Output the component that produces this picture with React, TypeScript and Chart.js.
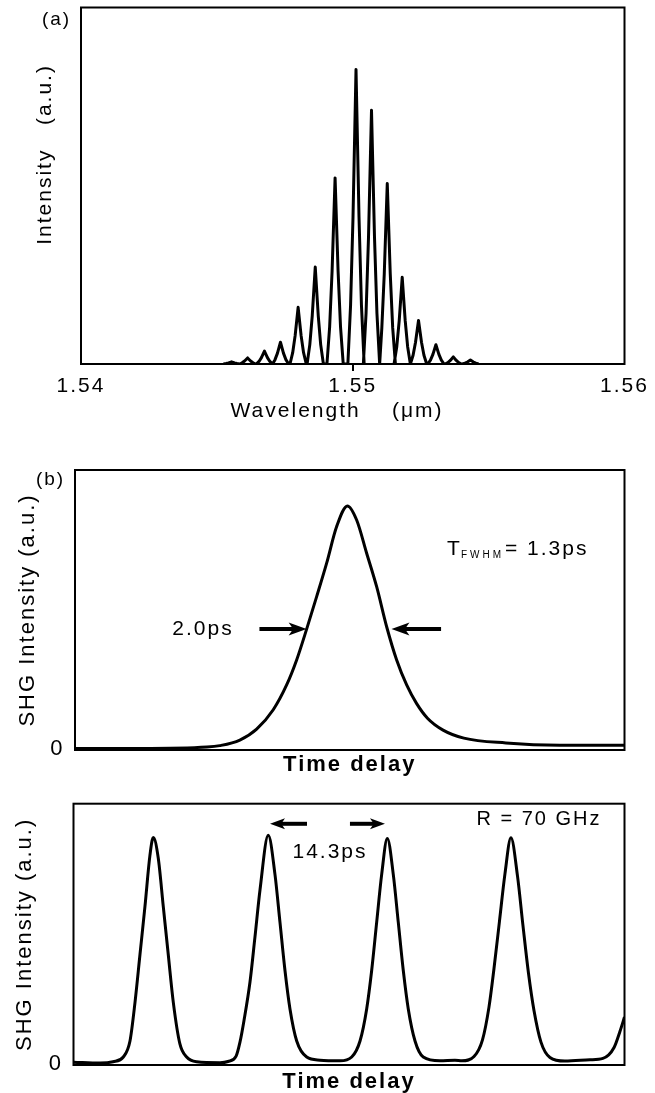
import React, { useEffect, useRef } from "react";
import { Chart, registerables } from "chart.js";

Chart.register(...registerables);

const FONT = "'Liberation Sans', Arial, Helvetica, sans-serif";
const LS = "2px";

// ---------- panel (a): optical spectrum ----------
const wavelengthTicks = [1.54, 1.55, 1.56];
const modeWavelengths = [
  1.54554, 1.54613, 1.54675, 1.54734, 1.54799, 1.54862, 1.54935, 1.55012,
  1.55069, 1.55127, 1.55182, 1.55242, 1.55306, 1.5537, 1.55433,
];
const modeIntensities = [
  0.006, 0.017, 0.036, 0.061, 0.159, 0.272, 0.522, 0.826, 0.712, 0.506, 0.243,
  0.122, 0.054, 0.02, 0.011,
];
// line shape of one longitudinal mode (offset in µm, fraction of mode height)
const modeProfileOffsets = [-0.0003, -0.0002, -0.00011, 0, 0.00011, 0.0002, 0.0003];
const modeProfileLevels = [0, 0.2, 0.5, 1, 0.5, 0.2, 0];

// ---------- panel (b): single autocorrelation trace ----------
const delayB = [
  -6.81, -5.19, -3.51, -3.19, -2.69, -2.27, -1.855, -1.52, -1.27, -1.02, -0.77,
  -0.52, -0.27, 0, 0.23, 0.48, 0.73, 0.98, 1.23, 1.48, 1.73, 2.0, 2.39, 2.91,
  3.96, 5.31, 6.925,
];
const shgB = [
  0.0, 0.0, 0.006, 0.012, 0.035, 0.08, 0.16, 0.262, 0.365, 0.492, 0.626, 0.764,
  0.915, 1.0, 0.942, 0.805, 0.667, 0.502, 0.365, 0.262, 0.185, 0.125, 0.076,
  0.043, 0.023, 0.014, 0.014,
];

// ---------- panel (c): pulse train ----------
const delayC = [
  0, 3.19, 4.75, 5.99, 6.79, 7.39, 7.99, 8.59, 9.19, 9.59, 10.19, 10.79, 11.39,
  12.0, 12.79, 13.6, 14.81, 17.61,
  18.57, 19.53, 20.01, 20.49, 21.21, 21.81, 22.42, 23.41, 24.22, 24.82, 25.42,
  26.02, 26.83, 28.03, 29.63,
  32.03, 33.44, 34.44, 35.24, 35.84, 36.44, 37.04, 37.72, 38.44, 39.04, 39.64,
  40.24, 41.05, 42.04, 44.05, 45.85,
  46.69, 48.14, 49.16, 49.94, 50.54, 51.2, 51.86, 52.58, 53.37, 54.03, 54.69,
  55.35, 56.19, 57.27, 59.07,
  62.08, 63.64, 64.96, 65.69, 66.23,
];
const shgC = [
  0.006, 0.002, 0.008, 0.029, 0.1, 0.27, 0.483, 0.696, 0.923, 1.001, 0.909,
  0.696, 0.483, 0.27, 0.087, 0.029, 0.008, 0.004,
  0.009, 0.032, 0.095, 0.19, 0.36, 0.56, 0.77, 1.011, 0.837, 0.625, 0.412,
  0.242, 0.1, 0.029, 0.015,
  0.012, 0.029, 0.1, 0.242, 0.412, 0.625, 0.837, 0.997, 0.837, 0.625, 0.412,
  0.242, 0.1, 0.029, 0.012, 0.015,
  0.012, 0.031, 0.105, 0.25, 0.42, 0.63, 0.84, 1.0, 0.83, 0.61, 0.4, 0.235,
  0.095, 0.027, 0.011,
  0.017, 0.023, 0.07, 0.143, 0.206,
];

// ---------- annotations (data coordinates) ----------
const fwhmText = "2.0ps";
const fwhmLabelPos = [-3.61, 0.493];
const fwhmArrowLevel = 0.493;
const fwhmArrowLeft = [-2.2, -1.02]; // tail, head
const fwhmArrowRight = [2.34, 1.1];
const tfwhmPos = [2.49, 0.823];
const tfwhmValue = "= 1.3ps";
const spacingText = "14.3ps";
const spacingLabelPos = [30.83, 0.934];
const spacingArrowLevel = 1.062;
const spacingArrowLeft = [28.07, 23.62];
const spacingArrowRight = [33.23, 37.44];
const rateText = "R = 70 GHz";
const rateLabelPos = [55.95, 1.079];

function drawText(
  ctx: any, s: string, x: number, y: number, size: number,
  align: string = "center", weight: string = "normal", ls: string = LS
) {
  ctx.save();
  ctx.font = `${weight} ${size}px ${FONT}`;
  ctx.letterSpacing = ls;
  ctx.fillStyle = "#000";
  ctx.textAlign = align;
  ctx.textBaseline = "middle";
  ctx.fillText(s, x, y);
  ctx.restore();
}

function drawArrow(ctx: any, xTail: number, xHead: number, y: number, headLen: number, headHalf: number, shaft: number) {
  const dir = Math.sign(xHead - xTail);
  ctx.save();
  ctx.fillStyle = "#000";
  ctx.strokeStyle = "#000";
  ctx.lineWidth = shaft;
  ctx.beginPath();
  ctx.moveTo(xTail, y);
  ctx.lineTo(xHead - dir * headLen * 0.7, y);
  ctx.stroke();
  ctx.beginPath();
  ctx.moveTo(xHead, y);
  ctx.lineTo(xHead - dir * headLen, y - headHalf);
  ctx.lineTo(xHead - dir * headLen * 0.75, y);
  ctx.lineTo(xHead - dir * headLen, y + headHalf);
  ctx.closePath();
  ctx.fill();
  ctx.restore();
}

const letterSpacingPlugin = {
  id: "letterSpacing",
  beforeUpdate(chart: any) { chart.ctx.letterSpacing = LS; },
  beforeLayout(chart: any) { chart.ctx.letterSpacing = LS; },
  beforeDraw(chart: any) { chart.ctx.letterSpacing = LS; },
};

const framePlugin = {
  id: "frame",
  afterDatasetsDraw(chart: any) {
    const { ctx, chartArea: a } = chart;
    ctx.save();
    ctx.strokeStyle = "#000";
    ctx.lineWidth = 2;
    ctx.strokeRect(a.left, a.top, a.right - a.left, a.bottom - a.top);
    ctx.restore();
  },
};

const noGrid = { display: false, drawTicks: false };
const noBorder = { display: false };

function zeroOnlyAxis(min: number, max: number, width: number, titlePad: number) {
  return {
    type: "linear",
    min,
    max,
    afterFit: (s: any) => { s.width = width; },
    afterBuildTicks: (s: any) => { s.ticks = [{ value: 0 }]; },
    grid: noGrid,
    border: noBorder,
    ticks: { padding: 10.5, color: "#000", font: { family: FONT, size: 22 }, callback: () => "0" },
    title: {
      display: true,
      text: "SHG Intensity (a.u.)",
      color: "#000",
      font: { family: FONT, size: 22 },
      padding: { top: titlePad, bottom: 0 },
    },
  };
}

function timeAxis(min: number, max: number, height: number, padBottom: number) {
  return {
    type: "linear",
    min,
    max,
    afterFit: (s: any) => { s.height = height; },
    grid: noGrid,
    border: noBorder,
    ticks: { display: false },
    title: {
      display: true,
      text: "Time delay",
      color: "#000",
      font: { family: FONT, size: 22, weight: "bold", lineHeight: 1 },
      padding: { top: 0, bottom: padBottom },
    },
  };
}

function lineDataset(points: any[], width: number, smooth: boolean) {
  return {
    data: points,
    borderColor: "#000",
    borderWidth: width,
    pointRadius: 0,
    fill: false,
    tension: 0,
    borderJoinStyle: "round",
    cubicInterpolationMode: smooth ? "monotone" : "default",
  };
}

const common = {
  animation: false,
  responsive: false,
  maintainAspectRatio: false,
  events: [],
};
const noPlugins = { legend: { display: false }, tooltip: { enabled: false } };

export default function App() {
  const refA = useRef<HTMLCanvasElement>(null);
  const refB = useRef<HTMLCanvasElement>(null);
  const refC = useRef<HTMLCanvasElement>(null);

  useEffect(() => {
    Chart.defaults.font.family = FONT;
    Chart.defaults.color = "#000";

    // ----- (a) -----
    const spectrum: any[] = [];
    modeWavelengths.forEach((w, i) => {
      modeProfileOffsets.forEach((o, j) => {
        spectrum.push({ x: w + o, y: modeIntensities[i] * modeProfileLevels[j] });
      });
    });

    const annotA = {
      id: "annotA",
      afterDraw(chart: any) {
        const a = chart.chartArea;
        drawText(chart.ctx, "(a)", a.left - 24.5, a.top + 12.5, 19);
      },
    };

    const chartA = new Chart(refA.current as any, {
      type: "line",
      data: { datasets: [lineDataset(spectrum, 3, false)] },
      options: {
        ...common,
        layout: { padding: { top: 7.5, right: 30.5, left: 0, bottom: 0 } },
        plugins: noPlugins,
        scales: {
          x: {
            type: "linear",
            min: 1.54,
            max: 1.56,
            afterBuildTicks: (s: any) => { s.ticks = wavelengthTicks.map((v) => ({ value: v })); },
            afterFit: (s: any) => { s.height = 76; },
            grid: {
              display: true,
              drawOnChartArea: false,
              drawTicks: true,
              tickLength: 7,
              lineWidth: 2,
              color: (c: any) =>
                c.tick && Math.abs(c.tick.value - wavelengthTicks[1]) < 1e-9 ? "#000" : "rgba(0,0,0,0)",
            },
            border: noBorder,
            ticks: {
              padding: 2.4,
              color: "#000",
              autoSkip: false,
              maxRotation: 0,
              font: { family: FONT, size: 21 },
              callback: (v: any) => Number(v).toFixed(2),
            },
            title: {
              display: true,
              text: "Wavelength    (μm)    ",
              color: "#000",
              font: { family: FONT, size: 21 },
              padding: { top: 0, bottom: 16.4 },
            },
          },
          y: {
            type: "linear",
            min: 0,
            max: 1,
            afterFit: (s: any) => { s.width = 81; },
            grid: noGrid,
            border: noBorder,
            ticks: { display: false },
            title: {
              display: true,
              text: "        Intensity   (a.u.)",
              color: "#000",
              font: { family: FONT, size: 21 },
              padding: { top: 32.4, bottom: 0 },
            },
          },
        },
      } as any,
      plugins: [letterSpacingPlugin, framePlugin, annotA] as any,
    });

    // ----- (b) -----
    const annotB = {
      id: "annotB",
      afterDraw(chart: any) {
        const { ctx, chartArea: a } = chart;
        const xs = chart.scales.x;
        const ys = chart.scales.y;
        drawText(ctx, "(b)", a.left - 24.5, a.top + 10, 19);
        drawText(ctx, fwhmText, xs.getPixelForValue(fwhmLabelPos[0]), ys.getPixelForValue(fwhmLabelPos[1]), 21);
        const ay = ys.getPixelForValue(fwhmArrowLevel);
        drawArrow(ctx, xs.getPixelForValue(fwhmArrowLeft[0]), xs.getPixelForValue(fwhmArrowLeft[1]), ay, 18, 6.5, 4);
        drawArrow(ctx, xs.getPixelForValue(fwhmArrowRight[0]), xs.getPixelForValue(fwhmArrowRight[1]), ay, 18, 6.5, 4);
        // T_FWHM = 1.3ps
        const x0 = xs.getPixelForValue(tfwhmPos[0]);
        const y0 = ys.getPixelForValue(tfwhmPos[1]);
        ctx.save();
        ctx.font = `normal 21px ${FONT}`;
        ctx.letterSpacing = LS;
        const wT = ctx.measureText("T").width;
        ctx.font = `normal 10px ${FONT}`;
        ctx.letterSpacing = "3px";
        const wSub = ctx.measureText("FWHM").width;
        ctx.restore();
        drawText(ctx, "T", x0, y0, 21, "left");
        drawText(ctx, "FWHM", x0 + wT - 1, y0 + 6, 10, "left", "normal", "3px");
        drawText(ctx, tfwhmValue, x0 + wT + wSub, y0, 21, "left");
      },
    };

    const chartB = new Chart(refB.current as any, {
      type: "line",
      data: {
        datasets: [lineDataset(delayB.map((t, i) => ({ x: t, y: shgB[i] })), 3, true)],
      },
      options: {
        ...common,
        layout: { padding: { top: 30, right: 30.5, left: 0, bottom: 0 } },
        plugins: noPlugins,
        scales: {
          x: timeAxis(delayB[0], delayB[delayB.length - 1], 30, 4),
          y: zeroOnlyAxis(-0.006, 1.148, 75, 14.8),
        },
      } as any,
      plugins: [letterSpacingPlugin, framePlugin, annotB] as any,
    });

    // ----- (c) -----
    const annotC = {
      id: "annotC",
      afterDraw(chart: any) {
        const { ctx } = chart;
        const xs = chart.scales.x;
        const ys = chart.scales.y;
        drawText(ctx, rateText, xs.getPixelForValue(rateLabelPos[0]), ys.getPixelForValue(rateLabelPos[1]), 20);
        drawText(ctx, spacingText, xs.getPixelForValue(spacingLabelPos[0]), ys.getPixelForValue(spacingLabelPos[1]), 21);
        const ay = ys.getPixelForValue(spacingArrowLevel);
        drawArrow(ctx, xs.getPixelForValue(spacingArrowLeft[0]), xs.getPixelForValue(spacingArrowLeft[1]), ay, 15, 5.5, 4);
        drawArrow(ctx, xs.getPixelForValue(spacingArrowRight[0]), xs.getPixelForValue(spacingArrowRight[1]), ay, 15, 5.5, 4);
      },
    };

    const chartC = new Chart(refC.current as any, {
      type: "line",
      data: {
        datasets: [lineDataset(delayC.map((t, i) => ({ x: t, y: shgC[i] })), 3, true)],
      },
      options: {
        ...common,
        layout: { padding: { top: 13, right: 30.5, left: 0, bottom: 0 } },
        plugins: noPlugins,
        scales: {
          x: timeAxis(delayC[0], delayC[delayC.length - 1], 28, 0),
          y: zeroOnlyAxis(-0.0064, 1.151, 73.5, 11.8),
        },
      } as any,
      plugins: [letterSpacingPlugin, framePlugin, annotC] as any,
    });

    return () => {
      chartA.destroy();
      chartB.destroy();
      chartC.destroy();
    };
  }, []);

  const cv = (top: number, h: number): any => ({
    position: "absolute",
    left: 0,
    top,
    width: 655,
    height: h,
    display: "block",
  });

  return (
    <div
      style={{
        position: "absolute",
        left: 0,
        top: 0,
        width: 655,
        height: 1093,
        background: "#fff",
        overflow: "hidden",
      }}
    >
      <canvas ref={refA} width={655} height={440} style={cv(0, 440)} />
      <canvas ref={refB} width={655} height={340} style={cv(440, 340)} />
      <canvas ref={refC} width={655} height={313} style={cv(780, 313)} />
    </div>
  );
}
